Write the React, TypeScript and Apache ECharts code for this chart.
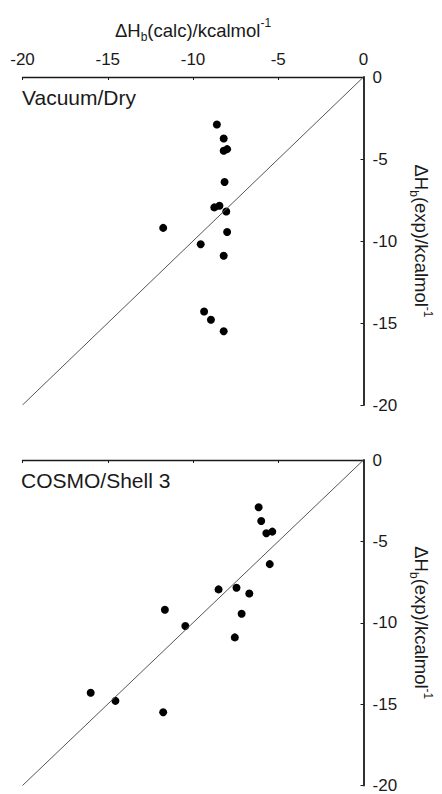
import React, { useEffect, useRef } from "react";
import * as echarts from "echarts";

// Experimental binding enthalpies (shared y values), kcal/mol
const yExp = [-2.9, -3.75, -4.5, -4.4, -6.4, -7.95, -7.85, -8.2, -9.2, -9.45, -10.2, -10.9, -14.3, -14.8, -15.5];
// Calculated values, Vacuum/Dry
const xVacuum = [-8.6, -8.2, -8.2, -8.0, -8.15, -8.75, -8.45, -8.05, -11.75, -8.0, -9.55, -8.2, -9.35, -8.95, -8.2];
// Calculated values, COSMO/Shell 3
const xCosmo = [-6.15, -6.0, -5.7, -5.35, -5.5, -8.5, -7.45, -6.7, -11.65, -7.15, -10.45, -7.55, -16.0, -14.55, -11.75];
// Identity line end points
const diagonal = [[-20, -20], [0, 0]];
const panelLabels = ["Vacuum/Dry", "COSMO/Shell 3"];
const axisMin = -20;
const axisMax = 0;
const axisStep = 5;

const FONT = '"Liberation Sans", Arial, Helvetica, sans-serif';
const INK = "#1a1a1a";

const rich = {
  n: { fontSize: 18.5, fontFamily: FONT, color: INK, lineHeight: 26 },
  sub: { fontSize: 12, fontFamily: FONT, color: INK, lineHeight: 13, verticalAlign: "bottom" },
  sup: { fontSize: 12, fontFamily: FONT, color: INK, lineHeight: 13, verticalAlign: "top" },
};

export default function App() {
  const ref = useRef<HTMLDivElement>(null);
  useEffect(() => {
    if (!ref.current) return;
    const chart = echarts.init(ref.current, null, { renderer: "svg" });
    const grids = [
      { left: 22.5, top: 77, width: 343.5, height: 328 },
      { left: 22.5, top: 460, width: 343.5, height: 327 },
    ];
    const xAxes = grids.map((_, i) => ({
      type: "value",
      gridIndex: i,
      position: "top",
      min: axisMin,
      max: axisMax,
      interval: axisStep,
      splitLine: { show: false },
      axisLine: { show: true, onZero: false, lineStyle: { color: INK, width: 1.3 } },
      axisTick: { show: true, length: 3, inside: true, lineStyle: { color: INK } },
      axisLabel: { show: i === 0, fontSize: 17, fontFamily: FONT, color: INK, margin: 9 },
      name: i === 0 ? "{n|ΔH}{sub|b}{n|(calc)/kcalmol}{sup|-1}" : "",
      nameLocation: "middle",
      nameGap: 34,
      nameTextStyle: { rich },
    }));
    const yAxes = grids.map((_, i) => ({
      type: "value",
      gridIndex: i,
      position: "right",
      min: axisMin,
      max: axisMax,
      interval: axisStep,
      splitLine: { show: false },
      axisLine: { show: true, onZero: false, lineStyle: { color: INK, width: 1.8 } },
      axisTick: { show: true, length: 3, inside: true, lineStyle: { color: INK } },
      axisLabel: { fontSize: 17, fontFamily: FONT, color: INK, margin: 9 },
      name: "{n|ΔH}{sub|b}{n|(exp)/kcalmol}{sup|-1}",
      nameLocation: "middle",
      nameRotate: -90,
      nameGap: 43,
      nameTextStyle: { rich },
    }));
    const xs = [xVacuum, xCosmo];
    const series: any[] = [];
    xs.forEach((xv, i) => {
      series.push({
        type: "line",
        xAxisIndex: i,
        yAxisIndex: i,
        data: diagonal,
        symbol: "none",
        lineStyle: { color: "#555", width: 1 },
        silent: true,
      });
      series.push({
        type: "scatter",
        xAxisIndex: i,
        yAxisIndex: i,
        data: xv.map((x, k) => [x, yExp[k]]),
        symbol: "circle",
        symbolSize: 8,
        itemStyle: { color: "#000", opacity: 1 },
      });
    });
    chart.setOption({
      animation: false,
      backgroundColor: "#fff",
      grid: grids,
      xAxis: xAxes,
      yAxis: yAxes,
      series,
      graphic: [
        {
          type: "text",
          x: 22,
          y: 97,
          style: { text: panelLabels[0], fontSize: 21, fontFamily: FONT, fill: INK, verticalAlign: "middle" },
        },
        {
          type: "text",
          x: 21,
          y: 480,
          style: { text: panelLabels[1], fontSize: 21, fontFamily: FONT, fill: INK, verticalAlign: "middle" },
        },
      ],
    });
    return () => chart.dispose();
  }, []);
  return (
    <div
      ref={ref}
      style={{ position: "fixed", left: 0, top: 0, width: 442, height: 794, background: "#fff" }}
    />
  );
}
